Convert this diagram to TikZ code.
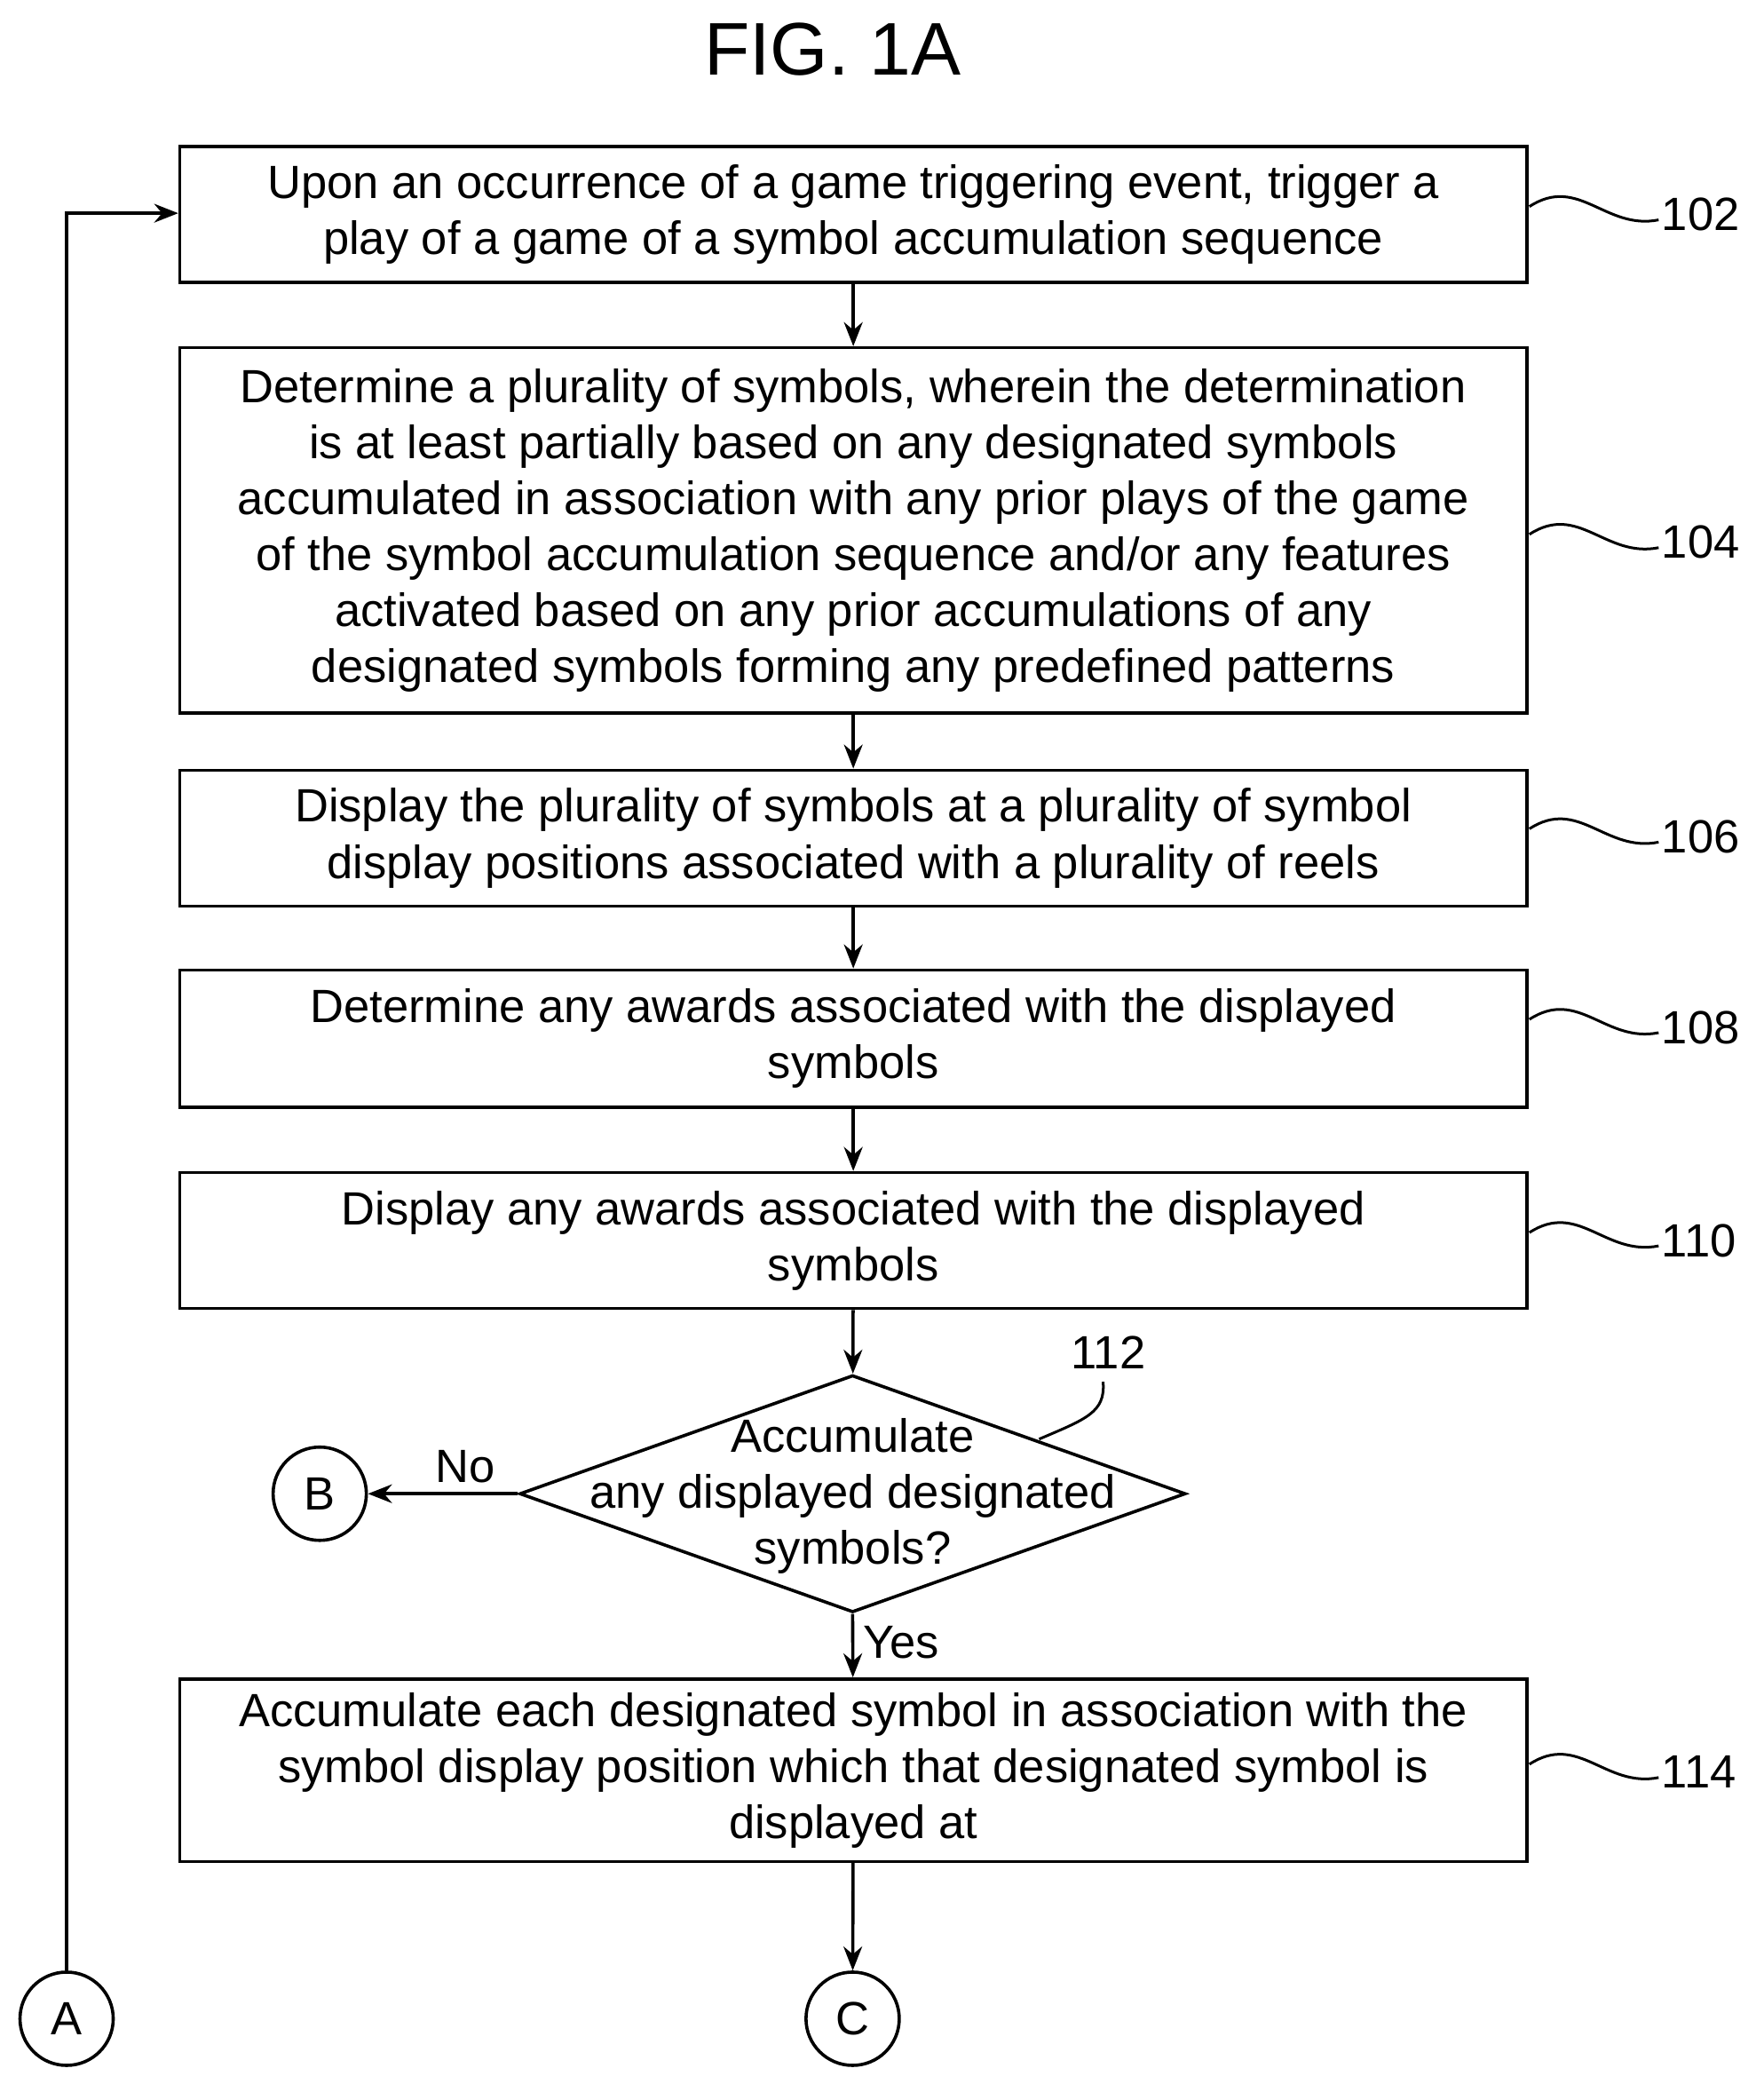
\documentclass[tikz,border=0pt]{standalone}
\usepackage{fontspec}
\setmainfont{Liberation Sans}
\usetikzlibrary{shapes.geometric,arrows.meta}
\begin{document}
\begin{tikzpicture}[x=0.5pt,y=-0.5pt,
 box/.style={draw,line width=1.2pt,minimum width=505.5pt,align=center,font=\fontsize{17.5}{21}\selectfont,inner sep=0pt},
 con/.style={draw,circle,line width=1.2pt,minimum size=35pt,inner sep=0pt,font=\fontsize{17.5}{21}\selectfont},
 arr/.style={line width=1.2pt,-{Stealth[length=9pt,width=7pt]}},
 lbl/.style={font=\fontsize{17.5}{21}\selectfont},
 sq/.style={line width=1pt}]
\useasboundingbox (0,0) rectangle (1324,1576);
\node[font=\fontsize{28}{30}\selectfont] (t) at (625,37) {FIG. 1A};
\node[box,minimum height=51pt] (b102) at (640.5,161) {Upon an occurrence of a game triggering event, trigger a\\play of a game of a symbol accumulation sequence};
\node[box,minimum height=137pt] (b104) at (640.5,398) {Determine a plurality of symbols, wherein the determination\\is at least partially based on any designated symbols\\accumulated in association with any prior plays of the game\\of the symbol accumulation sequence and/or any features\\activated based on any prior accumulations of any\\designated symbols forming any predefined patterns};
\node[box,minimum height=51pt] (b106) at (640.5,629) {Display the plurality of symbols at a plurality of symbol\\display positions associated with a plurality of reels};
\node[box,minimum height=51.5pt] (b108) at (640.5,779.5) {Determine any awards associated with the displayed\\symbols};
\node[box,minimum height=51pt] (b110) at (640.5,931) {Display any awards associated with the displayed\\symbols};
\node[draw,diamond,line width=1.2pt,minimum width=250pt,minimum height=89pt,inner sep=0pt,aspect=2.8] (d112) at (640,1121) {};
\node[lbl,align=center] at (640,1123) {Accumulate\\any displayed designated\\symbols?};
\node[box,minimum height=68.5pt] (b114) at (640.5,1328.5) {Accumulate each designated symbol in association with the\\symbol display position which that designated symbol is\\displayed at};
\node[con] (B) at (240,1121) {B};
\node[con] (C) at (640,1515) {C};
\node[con] (A) at (50,1515) {A};
\draw[arr] (b102) -- (b104);
\draw[arr] (b104) -- (b106);
\draw[arr] (b106) -- (b108);
\draw[arr] (b108) -- (b110);
\draw[arr] (b110) -- (d112);
\draw[arr] (d112.west) -- node[lbl,above,pos=0.35]{No} (B);
\draw[arr] (d112.south) -- node[lbl,right,pos=0.45]{Yes} (b114);
\draw[arr] (b114) -- (C);
\draw[arr] (A) -- (50,160) -- (b102.west|-0,160);
\foreach \y/\n in {161/102,407/104,628/106,771/108,931/110,1330/114}{
 \draw[sq] (1148,\y-6) .. controls (1185,\y-30) and (1205,\y+12) .. (1245,\y+4);
 \node[lbl,anchor=west,inner sep=1pt] at (1245,\y) {\n};}
\draw[sq] (780,1080) .. controls (815,1065) and (830,1060) .. (828,1037);
\node[lbl] at (832,1015) {112};
\end{tikzpicture}
\end{document}
